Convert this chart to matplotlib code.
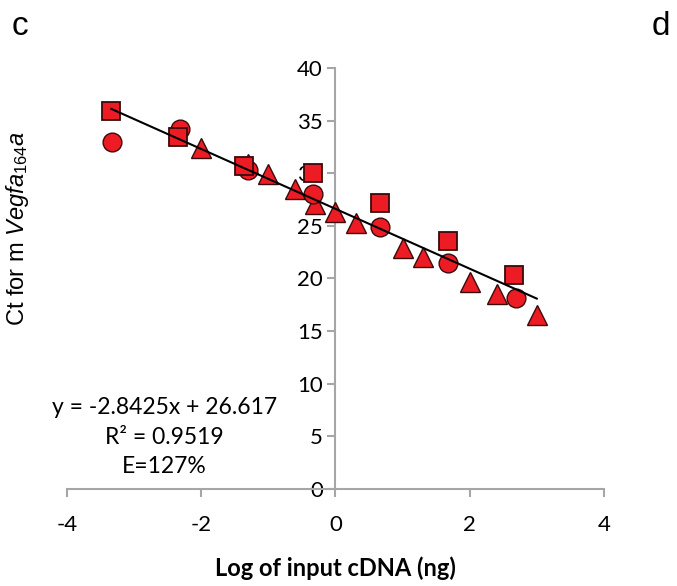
import numpy as np
import matplotlib.pyplot as plt

# data (log ng input vs Ct)
sq_x = [-3.34, -2.35, -1.36, -0.34, 0.67, 1.67, 2.66]
sq_y = [35.9, 33.4, 30.7, 30.0, 27.2, 23.6, 20.3]
circ_x = [-3.33, -2.32, -1.31, -0.33, 0.67, 1.67, 2.69]
circ_y = [33.0, 34.2, 30.3, 28.0, 24.9, 21.5, 18.1]
tri_x = [-2.0, -1.31, -1.0, -0.6, -0.3, 0.0, 0.3, 1.0, 1.3, 2.0, 2.4, 3.0]
tri_y = [32.4, 30.9, 29.9, 28.5, 27.1, 26.3, 25.3, 22.9, 22.0, 19.7, 18.5, 16.5]
slope = -2.8425
intercept = 26.617
fit_range = [-3.34, 3.0]

red = '#ED1C24'
plt.rcParams['font.family'] = ['Lato', 'DejaVu Sans']
plt.rcParams['axes.unicode_minus'] = False
plt.rcParams['mathtext.fontset'] = 'custom'
plt.rcParams['mathtext.rm'] = 'Liberation Sans'
plt.rcParams['mathtext.it'] = 'Liberation Sans:italic'

fig = plt.figure(figsize=(6.77, 5.86), dpi=100)
ax = fig.add_axes([0.099, 0.1655, 0.793, 0.7185])

# trendline
fx = np.array(fit_range)
ax.plot(fx, slope * fx + intercept, color='black', lw=1.5, zorder=4)

ax.plot(tri_x, tri_y, '^', ms=15, mfc=red, mec='#3a0a0a', mew=1, zorder=3)
ax.plot(circ_x, circ_y, 'o', ms=13.5, mfc=red, mec='#3a0a0a', mew=1, zorder=3)
ax.plot(sq_x, sq_y, 's', ms=13, mfc=red, mec='#3a0a0a', mew=1.3, zorder=3)

ax.set_xlim(-4, 4)
ax.set_ylim(0, 40)
ax.set_xticks([-4, -2, 0, 2, 4])
ax.set_yticks(range(0, 41, 5))

grey = '#A6A6A6'
ax.spines['left'].set_position(('data', 0))
ax.spines['right'].set_visible(False)
ax.spines['top'].set_visible(False)
for s in ['left', 'bottom']:
    ax.spines[s].set_color(grey)
    ax.spines[s].set_linewidth(1.5)
ax.tick_params(axis='both', colors=grey, width=1.5, length=6, labelcolor='black', labelsize=16)
ax.tick_params(axis='x', pad=13)
ax.tick_params(axis='y', pad=3)
ax.patch.set_alpha(0)

ax.set_xlabel('Log of input cDNA (ng)', fontsize=17, fontweight='bold', labelpad=15)

fig.text(0.026, 0.61, r'Ct for m $\mathit{Vegfa}_{\mathit{164}}\mathit{a}$',
         rotation=90, ha='center', va='center', fontsize=17, family='Liberation Sans')

ax.text(-2.55, 4.9, 'y = -2.8425x + 26.617\nR² = 0.9519\nE=127%',
        ha='center', va='center', fontsize=16.5, linespacing=1.5)

fig.text(0.017, 0.955, 'c', fontsize=24, family='Liberation Sans', va='center')
fig.text(0.962, 0.955, 'd', fontsize=24, family='Liberation Sans', va='center')

fig.savefig('out.png', dpi=100)
